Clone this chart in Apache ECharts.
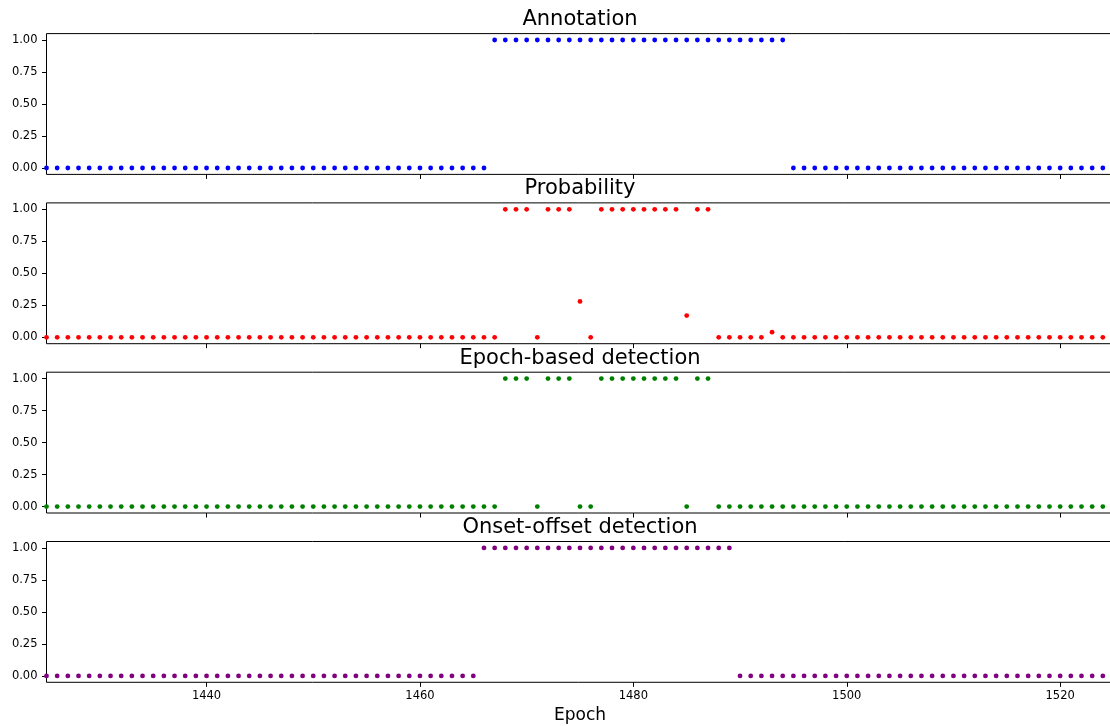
<!DOCTYPE html>
<html>
<head>
<meta charset="utf-8">
<script src="https://cdn.jsdelivr.net/npm/echarts@6/dist/echarts.min.js"></script>
<style>
  html, body { margin: 0; padding: 0; background: #fff; }
  #chart { width: 1110px; height: 726px; }
</style>
</head>
<body>
<div id="chart"></div>
<script>
// Epoch numbers shared by all four panels
const epochs = [
  1425, 1426, 1427, 1428, 1429, 1430, 1431, 1432, 1433, 1434,
  1435, 1436, 1437, 1438, 1439, 1440, 1441, 1442, 1443, 1444,
  1445, 1446, 1447, 1448, 1449, 1450, 1451, 1452, 1453, 1454,
  1455, 1456, 1457, 1458, 1459, 1460, 1461, 1462, 1463, 1464,
  1465, 1466, 1467, 1468, 1469, 1470, 1471, 1472, 1473, 1474,
  1475, 1476, 1477, 1478, 1479, 1480, 1481, 1482, 1483, 1484,
  1485, 1486, 1487, 1488, 1489, 1490, 1491, 1492, 1493, 1494,
  1495, 1496, 1497, 1498, 1499, 1500, 1501, 1502, 1503, 1504,
  1505, 1506, 1507, 1508, 1509, 1510, 1511, 1512, 1513, 1514,
  1515, 1516, 1517, 1518, 1519, 1520, 1521, 1522, 1523, 1524
];

// Manual annotation (one value per epoch above)
const annotation = [
  0, 0, 0, 0, 0, 0, 0, 0, 0, 0,
  0, 0, 0, 0, 0, 0, 0, 0, 0, 0,
  0, 0, 0, 0, 0, 0, 0, 0, 0, 0,
  0, 0, 0, 0, 0, 0, 0, 0, 0, 0,
  0, 0, 1, 1, 1, 1, 1, 1, 1, 1,
  1, 1, 1, 1, 1, 1, 1, 1, 1, 1,
  1, 1, 1, 1, 1, 1, 1, 1, 1, 1,
  0, 0, 0, 0, 0, 0, 0, 0, 0, 0,
  0, 0, 0, 0, 0, 0, 0, 0, 0, 0,
  0, 0, 0, 0, 0, 0, 0, 0, 0, 0
];

// Classifier output probability
const probability = [
  0, 0, 0, 0, 0, 0, 0, 0, 0, 0,
  0, 0, 0, 0, 0, 0, 0, 0, 0, 0,
  0, 0, 0, 0, 0, 0, 0, 0, 0, 0,
  0, 0, 0, 0, 0, 0, 0, 0, 0, 0,
  0, 0, 0, 1, 1, 1, 0, 1, 1, 1,
  0.28, 0, 1, 1, 1, 1, 1, 1, 1, 1,
  0.17, 1, 1, 0, 0, 0, 0, 0, 0.04, 0,
  0, 0, 0, 0, 0, 0, 0, 0, 0, 0,
  0, 0, 0, 0, 0, 0, 0, 0, 0, 0,
  0, 0, 0, 0, 0, 0, 0, 0, 0, 0
];

// Thresholded per-epoch detection
const epochDetection = [
  0, 0, 0, 0, 0, 0, 0, 0, 0, 0,
  0, 0, 0, 0, 0, 0, 0, 0, 0, 0,
  0, 0, 0, 0, 0, 0, 0, 0, 0, 0,
  0, 0, 0, 0, 0, 0, 0, 0, 0, 0,
  0, 0, 0, 1, 1, 1, 0, 1, 1, 1,
  0, 0, 1, 1, 1, 1, 1, 1, 1, 1,
  0, 1, 1, 0, 0, 0, 0, 0, 0, 0,
  0, 0, 0, 0, 0, 0, 0, 0, 0, 0,
  0, 0, 0, 0, 0, 0, 0, 0, 0, 0,
  0, 0, 0, 0, 0, 0, 0, 0, 0, 0
];

// Onset/offset based detection
const onsetOffset = [
  0, 0, 0, 0, 0, 0, 0, 0, 0, 0,
  0, 0, 0, 0, 0, 0, 0, 0, 0, 0,
  0, 0, 0, 0, 0, 0, 0, 0, 0, 0,
  0, 0, 0, 0, 0, 0, 0, 0, 0, 0,
  0, 1, 1, 1, 1, 1, 1, 1, 1, 1,
  1, 1, 1, 1, 1, 1, 1, 1, 1, 1,
  1, 1, 1, 1, 1, 0, 0, 0, 0, 0,
  0, 0, 0, 0, 0, 0, 0, 0, 0, 0,
  0, 0, 0, 0, 0, 0, 0, 0, 0, 0,
  0, 0, 0, 0, 0, 0, 0, 0, 0, 0
];

const panelTitles = ['Annotation', 'Probability', 'Epoch-based detection', 'Onset-offset detection'];
const panelValues = [annotation, probability, epochDetection, onsetOffset];
const panelColors = ['#0000ff', '#ff0000', '#008000', '#800080'];
const xTicks = [1440, 1460, 1480, 1500, 1520];
const yTicks = [0, 0.25, 0.5, 0.75, 1];

const FONT = 'DejaVu Sans';
const gridLeft = 46.5;
const gridWidth = 1067;   // right edge runs just past the canvas
const panelTops = [33.6, 202.9, 372.2, 541.5];
const panelHeight = 140.8;
const titleCenterX = gridLeft + gridWidth / 2;

const grids = [], xAxes = [], yAxes = [], series = [], titles = [];

panelTitles.forEach((name, i) => {
  const last = i === panelTitles.length - 1;
  grids.push({
    left: gridLeft, width: gridWidth, top: panelTops[i], height: panelHeight,
    show: true, borderColor: '#000', borderWidth: 1, backgroundColor: 'transparent',
    containLabel: false, outerBoundsMode: 'none'
  });
  xAxes.push({
    type: 'value', gridIndex: i, min: 1425, max: 1525,
    axisLine: { show: false, onZero: false },
    splitLine: { show: false },
    axisTick: {
      show: true, length: 4.5, customValues: xTicks,
      lineStyle: { color: '#000', width: 1 }
    },
    axisLabel: {
      show: last, customValues: xTicks, margin: 8,
      color: '#000', fontFamily: FONT, fontSize: 11.5,
      formatter: v => String(v)
    },
    name: last ? 'Epoch' : '',
    nameLocation: 'middle', nameGap: 25,
    nameTextStyle: { color: '#000', fontFamily: FONT, fontSize: 17 }
  });
  yAxes.push({
    type: 'value', gridIndex: i, min: -0.05, max: 1.05,
    axisLine: { show: false },
    splitLine: { show: false },
    axisTick: {
      show: true, length: 4.5, customValues: yTicks,
      lineStyle: { color: '#000', width: 1 }
    },
    axisLabel: {
      show: true, customValues: yTicks, margin: 9,
      color: '#000', fontFamily: FONT, fontSize: 11.5,
      formatter: v => v.toFixed(2)
    }
  });
  series.push({
    type: 'scatter', name: name, xAxisIndex: i, yAxisIndex: i,
    symbol: 'circle', symbolSize: 4.8,
    itemStyle: { color: panelColors[i], opacity: 1 },
    silent: true, animation: false,
    data: epochs.map((e, k) => [e, panelValues[i][k]])
  });
  titles.push({
    text: name, left: titleCenterX, top: panelTops[i] - 14,
    textAlign: 'center', textVerticalAlign: 'middle', padding: 0,
    textStyle: { color: '#000', fontFamily: FONT, fontSize: 21, fontWeight: 'normal' }
  });
});

const chart = echarts.init(document.getElementById('chart'), null, { renderer: 'canvas' });
chart.setOption({
  backgroundColor: '#fff',
  animation: false,
  title: titles,
  grid: grids,
  xAxis: xAxes,
  yAxis: yAxes,
  series: series
});
</script>
</body>
</html>
